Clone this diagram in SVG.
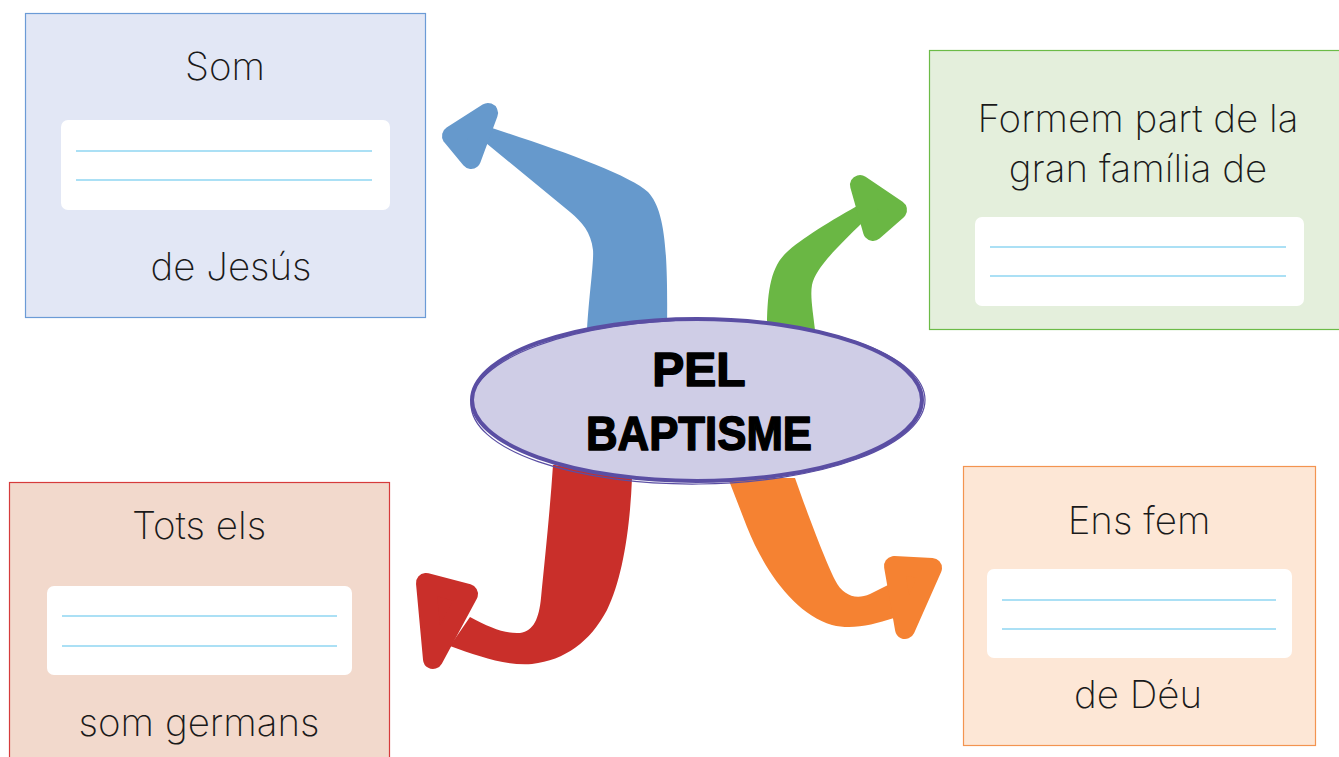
<svg xmlns="http://www.w3.org/2000/svg" width="1339" height="757" viewBox="0 0 1339 757">
<style>
.lbl{font-family:"Inter","Roboto","Liberation Sans",sans-serif;font-weight:200;font-size:38.5px;fill:#1a1a1a;text-anchor:middle}
.blank{fill:#ffffff}
.rule{stroke:#8fd6f2;stroke-width:1.3}
.title{font-family:"Liberation Sans","DejaVu Sans",sans-serif;font-weight:bold;font-size:48px;fill:#000;stroke:#000;stroke-width:1.5;stroke-linejoin:round;text-anchor:middle}
.head{stroke-width:20;stroke-linejoin:round}
</style>
<rect width="1339" height="757" fill="#ffffff"/>

<g id="connectors">
  <g id="arrow-blue" fill="#6699cc">
    <path d="M 492,128 C 560,150 630,175 648,192 C 665,210 668,250 667,330 L 587,330 C 589,295 594,262 593,250 C 591,232 582,222 570,212 L 486,143 Z"/>
    <polygon class="head" points="488,113 452,136 471,159" stroke="#6699cc"/>
  </g>
  <g id="arrow-green" fill="#6ab744">
    <path d="M 857,206 C 825,224 795,243 784,255 C 770,270 767,295 767,330 L 815,330 C 813,312 810,296 812,285 C 815,270 832,252 864,221 Z"/>
    <polygon class="head" points="860,185 897,210 873,231" stroke="#6ab744"/>
  </g>
  <g id="arrow-red" fill="#c92f2a">
    <path d="M 555,465 L 632,478 C 630,530 622,580 607,610 C 590,642 565,660 532,664 C 505,666 478,656 450,646 L 470,617 C 490,628 506,634 520,633 C 534,631 539,618 541,598 C 545,558 550,510 553,465 Z"/>
    <polygon class="head" points="426,583 468,594 433,659" stroke="#c92f2a"/>
  </g>
  <g id="arrow-orange" fill="#f58232">
    <path d="M 728,478 L 795,478 C 808,515 825,560 835,580 C 843,596 856,600 870,594 L 888,585 L 894,618 C 872,625 852,630 832,625 C 795,614 765,572 747,527 Z"/>
    <polygon class="head" points="894,566 932,568 905,629" stroke="#f58232"/>
  </g>
</g>

<g id="node-center">
  <ellipse cx="697" cy="400" rx="225" ry="81" fill="#cfcde6" stroke="#5a4ea3" stroke-width="4"/>
  <ellipse cx="698" cy="402" rx="227" ry="82" fill="none" stroke="#5a4ea3" stroke-width="1.2" transform="rotate(-0.6 698 402)"/>
  <text class="title" x="699" y="386">PEL</text>
  <text class="title" x="699" y="450" textLength="226" lengthAdjust="spacingAndGlyphs">BAPTISME</text>
</g>

<g id="node-som">
  <rect x="25.5" y="13.5" width="400" height="304" fill="#e2e7f5" stroke="#6b9bd6" stroke-width="1.2"/>
  <rect class="blank" x="61" y="120" width="329" height="90" rx="7"/>
  <line class="rule" x1="76" y1="151" x2="372" y2="151"/>
  <line class="rule" x1="76" y1="180" x2="372" y2="180"/>
  <text class="lbl" x="225" y="80">Som</text>
  <text class="lbl" x="231" y="280">de Jesús</text>
</g>

<g id="node-familia">
  <rect x="929.5" y="50.5" width="412" height="279" fill="#e4efdc" stroke="#6cbb47" stroke-width="1.2"/>
  <rect class="blank" x="975" y="217" width="329" height="89" rx="7"/>
  <line class="rule" x1="990" y1="247" x2="1286" y2="247"/>
  <line class="rule" x1="990" y1="276" x2="1286" y2="276"/>
  <text class="lbl" x="1138" y="132">Formem part de la</text>
  <text class="lbl" x="1138" y="182">gran família de</text>
</g>

<g id="node-germans">
  <rect x="9.5" y="482.5" width="380" height="290" fill="#f2d9cc" stroke="#d63b3b" stroke-width="1.2"/>
  <rect class="blank" x="47" y="586" width="305" height="89" rx="7"/>
  <line class="rule" x1="62" y1="616" x2="337" y2="616"/>
  <line class="rule" x1="62" y1="646" x2="337" y2="646"/>
  <text class="lbl" x="199" y="539">Tots els</text>
  <text class="lbl" x="199" y="736">som germans</text>
</g>

<g id="node-deu">
  <rect x="963.5" y="466.5" width="352" height="279" fill="#fde7d6" stroke="#f39450" stroke-width="1.2"/>
  <rect class="blank" x="987" y="569" width="305" height="89" rx="7"/>
  <line class="rule" x1="1002" y1="600" x2="1276" y2="600"/>
  <line class="rule" x1="1002" y1="629" x2="1276" y2="629"/>
  <text class="lbl" x="1139" y="534">Ens fem</text>
  <text class="lbl" x="1138" y="708">de Déu</text>
</g>
</svg>
